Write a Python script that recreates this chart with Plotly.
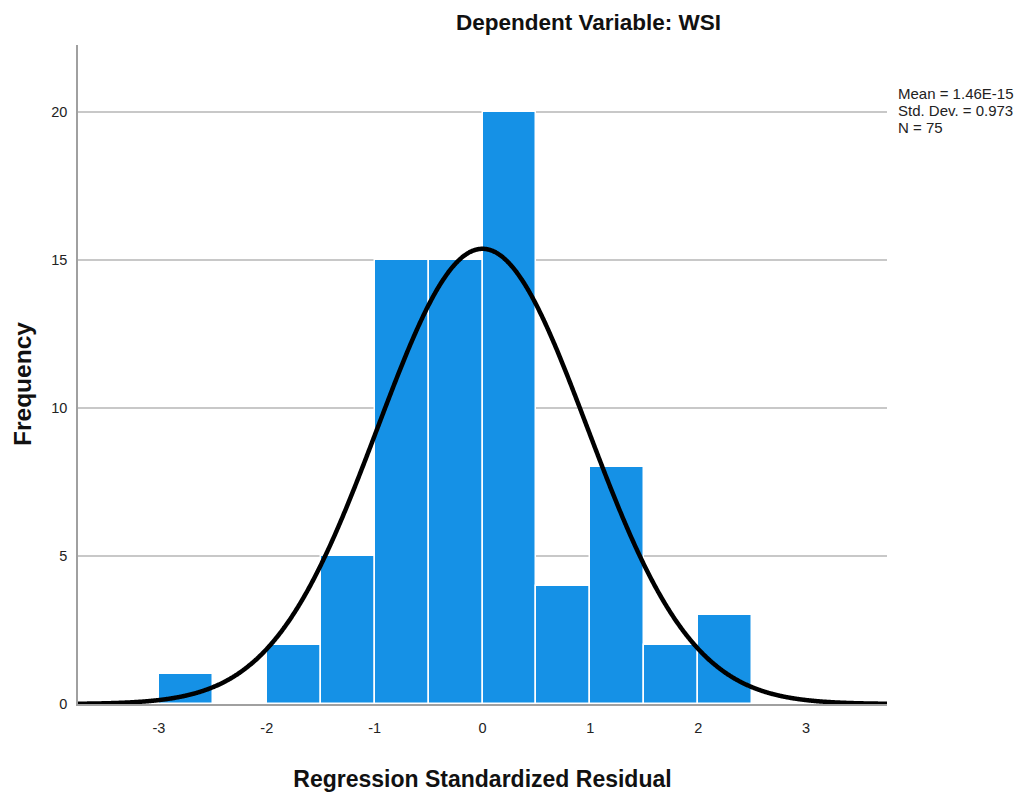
import numpy as np
import plotly.graph_objects as go

# Histogram of regression standardized residuals (bin width 0.5)
bin_starts = [-3.0, -2.0, -1.5, -1.0, -0.5, 0.0, 0.5, 1.0, 1.5, 2.0]
counts = [1, 2, 5, 15, 15, 20, 4, 8, 2, 3]
bin_width = 0.5

# Summary statistics shown beside the chart
mean_val = 1.46e-15
std_val = 0.973
n_obs = 75
stat_lines = ["Mean = 1.46E-15", f"Std. Dev. = {std_val}", f"N = {n_obs}"]

x_ticks = [-3, -2, -1, 0, 1, 2, 3]
y_ticks = [0, 5, 10, 15, 20]

bar_centers = [s + bin_width / 2 for s in bin_starts]

# Normal curve scaled to the histogram counts
xc = np.linspace(-3.75, 3.75, 800)
yc = n_obs * bin_width / (std_val * np.sqrt(2 * np.pi)) * np.exp(-0.5 * ((xc - mean_val) / std_val) ** 2)

font_main = "Liberation Sans, Arial, sans-serif"

fig = go.Figure()
fig.add_trace(go.Bar(
    x=bar_centers, y=counts, width=bin_width,
    marker=dict(color="#1591e6", line=dict(color="white", width=1.5)),
    hoverinfo="x+y",
))
fig.add_trace(go.Scatter(
    x=xc, y=yc, mode="lines",
    line=dict(color="black", width=4.5, shape="spline"),
    hoverinfo="skip",
))

annotations = [
    dict(text="<b>Dependent Variable: WSI</b>", xref="paper", yref="paper",
         x=(588 - 78) / 809, y=1, yshift=23, xanchor="center", yanchor="middle",
         showarrow=False, font=dict(size=22.5, color="#111")),
    dict(text="<b>Frequency</b>", xref="paper", yref="paper",
         x=0, xshift=-56, y=(704 - 384) / 659, xanchor="center", yanchor="middle",
         textangle=-90, showarrow=False, font=dict(size=24.5, color="#111")),
]
for i, line in enumerate(stat_lines):
    annotations.append(dict(
        text=line, xref="paper", yref="paper", x=1, xshift=9,
        y=1, yshift=-(48 + 17 * i), xanchor="left", yanchor="middle",
        align="left", showarrow=False,
        font=dict(size=15, color="#222"),
    ))

fig.update_layout(
    width=1020, height=798,
    margin=dict(l=78, r=133, t=45, b=94, autoexpand=False),
    paper_bgcolor="white", plot_bgcolor="white",
    showlegend=False,
    bargap=0,
    font=dict(family=font_main, color="#222"),
    xaxis=dict(
        range=[-3.75, 3.75], tickvals=x_ticks, ticktext=[str(v) for v in x_ticks],
        showgrid=False, zeroline=False, automargin=False,
        showline=True, linecolor="#a0a0a0", linewidth=1.5,
        ticks="", tickfont=dict(size=14.5, color="#222"), ticklabelstandoff=10,
        title=dict(text="<b>Regression Standardized Residual</b>",
                   font=dict(size=23, color="#111"), standoff=36),
    ),
    yaxis=dict(
        range=[0, 22.26], tickvals=y_ticks, ticktext=[str(v) for v in y_ticks],
        showgrid=True, gridcolor="#c8c8c8", gridwidth=1.5, zeroline=False,
        automargin=False,
        showline=True, linecolor="#a0a0a0", linewidth=1.5,
        ticks="", tickfont=dict(size=14.5, color="#222"), ticklabelstandoff=6,
    ),
    annotations=annotations,
)

fig.write_html("out.html")
